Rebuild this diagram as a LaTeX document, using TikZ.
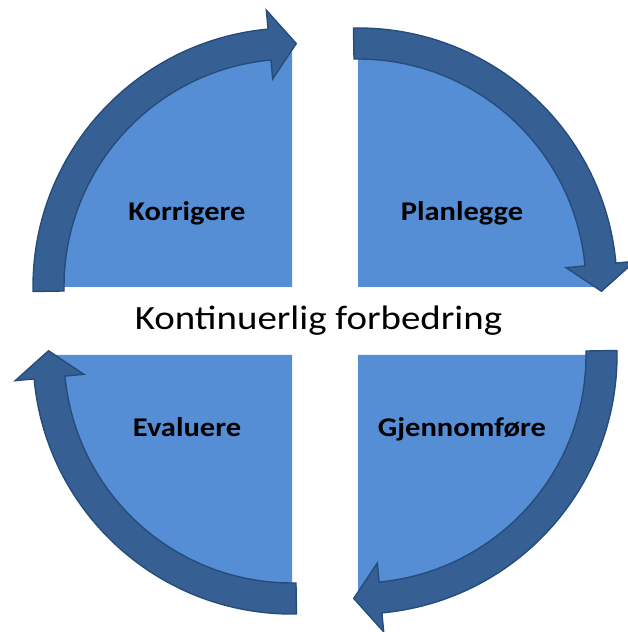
\documentclass[tikz,border=0pt]{standalone}
\usepackage{fontspec}
\setmainfont{Carlito}
\usetikzlibrary{calc}
\definecolor{pielight}{RGB}{85,142,213}
\definecolor{arrowfill}{RGB}{54,96,147}
\definecolor{arrowedge}{RGB}{38,76,124}
\tikzset{
  piepart/.style={fill=pielight},
  cycarrow/.style={fill=arrowfill,draw=arrowedge,line width=1.4pt,line join=miter},
  lbl/.style={font=\bfseries\fontsize{27}{31}\selectfont,anchor=base,xscale=1.13,inner sep=0pt},
  ctitle/.style={font=\fontsize{34}{40}\selectfont,anchor=base,xscale=1.145,inner sep=0pt}
}
% #1 = centre, #2 = start axis angle (arrow runs clockwise by 90 degrees)
\newcommand{\cyclearrow}[2]{%
  \draw[cycarrow] ($(#1)+(#2+1:259pt)$) arc[start angle=#2+1, end angle=#2-84.7, radius=259pt]
    -- ($(#1)+(#2-84.7:278pt)$) -- ($(#1)+(#2-91:243.5pt)$) -- ($(#1)+(#2-84.7:209pt)$)
    -- ($(#1)+(#2-84.7:228pt)$) arc[start angle=#2-84.7, end angle=#2+1, radius=228pt] -- cycle;}
\begin{document}
\begin{tikzpicture}[x=1pt,y=1pt]
\useasboundingbox (0,0) rectangle (627,632);
\coordinate (ctl) at (292,345);
\coordinate (ctr) at (358,345);
\coordinate (cbl) at (292,277);
\coordinate (cbr) at (358,277);
% pie quarters
\fill[piepart] (ctl) -- ++(180:243pt) arc[start angle=180, end angle=90, radius=243pt] -- cycle;
\fill[piepart] (ctr) -- ++(90:243pt) arc[start angle=90, end angle=0, radius=243pt] -- cycle;
\fill[piepart] (cbr) -- ++(0:243pt) arc[start angle=0, end angle=-90, radius=243pt] -- cycle;
\fill[piepart] (cbl) -- ++(270:243pt) arc[start angle=270, end angle=180, radius=243pt] -- cycle;
% arrows
\cyclearrow{ctl}{180}
\cyclearrow{ctr}{90}
\cyclearrow{cbr}{0}
\cyclearrow{cbl}{270}
% labels
\node[lbl] (korr) at (187,411) {Korrigere};
\node[lbl] (plan) at (462,411) {Planlegge};
\node[lbl] (eval) at (187,195) {Evaluere};
\node[lbl] (gjen) at (462,195) {Gjennomføre};
\node[ctitle] (title) at (318.5,302) {Kontinuerlig forbedring};
\end{tikzpicture}
\end{document}
